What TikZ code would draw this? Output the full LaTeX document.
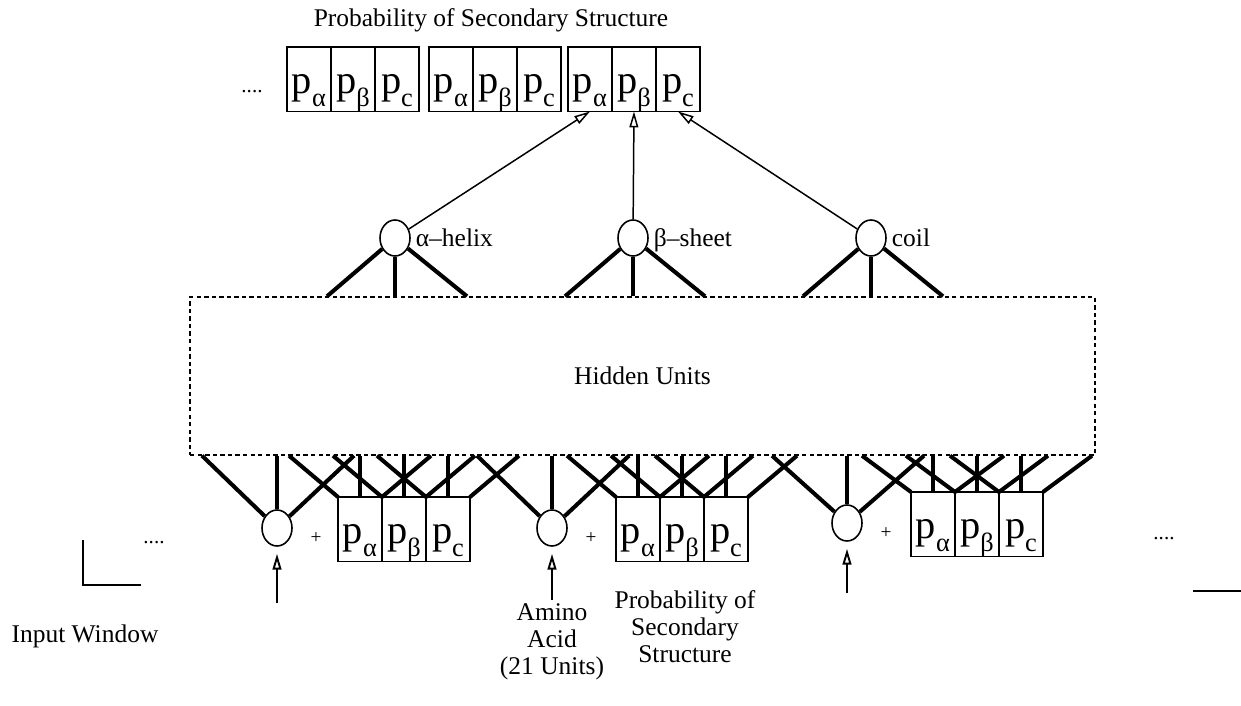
\documentclass[tikz,border=0pt]{standalone}
\usepackage{fontspec}
\setmainfont{Liberation Serif}
\usetikzlibrary{arrows.meta,calc,shapes.geometric,positioning}
\newcommand{\pc}[1]{\raisebox{-8pt}[0pt][0pt]{\fontsize{23}{23}\selectfont p\raisebox{-7.5pt}{\fontsize{15}{15}\selectfont #1}}}

\begin{document}
\begin{tikzpicture}[x=0.02cm,y=-0.02cm,font=\fontsize{14.5}{15.5}\selectfont,
    cell/.style={draw,line width=1.1pt,minimum width=0.88cm,minimum height=1.29cm,inner sep=0pt,outer sep=0pt},
    unit/.style={draw,ellipse,line width=0.9pt,minimum width=0.6cm,minimum height=0.72cm,inner sep=0pt},
    wt/.style={line width=2.3pt},
    up arrow/.style={line width=0.85pt,-{Triangle[open,length=9pt,width=5pt]}}]
  \useasboundingbox (0,0) rectangle (1241,706);

  % output window
  \node (outlbl) at (491,20) {Probability of Secondary Structure};
  \node[font=\fontsize{12}{12}\selectfont] (tdots) at (252,92) {....};
  \foreach \g/\x in {1/287,2/429,3/568} {
    \node[cell,anchor=north west] (t\g-a) at (\x,47) {\pc{α}};
    \node[cell,right=0pt of t\g-a] (t\g-b) {\pc{β}};
    \node[cell,right=0pt of t\g-b] (t\g-c) {\pc{c}};
  }

  % hidden layer
  \node[draw,dashed,dash pattern=on 2.5pt off 1.8pt,line width=0.8pt,
        minimum width=18.1cm,minimum height=3.16cm] (hid) at (642.5,376) {Hidden Units};

  % output units
  \node[unit] (ha) at (395,238) {};
  \node[unit] (hb) at (633,238) {};
  \node[unit] (hc) at (871,238) {};
  \node[anchor=base west,inner sep=1pt] (la) at ($(ha.east)+(3,8)$) {α–helix};
  \node[anchor=base west,inner sep=1pt] (lb) at ($(hb.east)+(3,8)$) {β–sheet};
  \node[anchor=base west,inner sep=1pt] (lc) at ($(hc.east)+(3,8)$) {coil};
  \foreach \h in {ha,hb,hc} {
    \draw[wt] (\h) -- ($(\h |- hid.north)+(-68,0)$);
    \draw[wt] (\h) -- (\h |- hid.north);
    \draw[wt] (\h) -- ($(\h |- hid.north)+(72,0)$);
  }
  \draw[up arrow] (ha) -- (t3-a.south);
  \draw[up arrow] (hb) -- (t3-b.south);
  \draw[up arrow] (hc) -- (t3-c.south);

  % input window
  \foreach \g/\x/\y/\bx/\by/\sy in {1/277/528/338/497/603, 2/552/528/616/497/600, 3/847/523/911/492/593} {
    \node[unit] (i\g) at (\x,\y) {};
    \node[font=\fontsize{11}{11}\selectfont] (plus\g) at ($(i\g)+(39,10)$) {+};
    \node[cell,anchor=north west] (b\g-a) at (\bx,\by) {\pc{α}};
    \node[cell,right=0pt of b\g-a] (b\g-b) {\pc{β}};
    \node[cell,right=0pt of b\g-b] (b\g-c) {\pc{c}};
    \draw[wt] (i\g) -- ($(i\g |- hid.south)+(-75,0)$);
    \draw[wt] (i\g) -- (i\g |- hid.south);
    \draw[wt] (i\g) -- ($(i\g |- hid.south)+(77,0)$);
    \foreach \c in {a,b,c} {
      \draw[wt] (b\g-\c.north west) -- ($(b\g-\c.north west |- hid.south)+(-49,0)$);
      \draw[wt] (b\g-\c.north) -- (b\g-\c.north |- hid.south);
      \draw[wt] (b\g-\c.north east) -- ($(b\g-\c.north east |- hid.south)+(49,0)$);
    }
    \coordinate (s\g) at (\x,\sy);
    \draw[up arrow,line width=1.1pt,shorten >=4pt] (s\g) -- (i\g);
  }

  \node[font=\fontsize{12}{12}\selectfont] (ldots) at (154,543) {....};
  \node[font=\fontsize{12}{12}\selectfont] (rdots) at (1164,539) {....};
  \draw[line width=1.1pt] (83,540) -- (83,585) -- (141,585);
  \draw[line width=1.1pt] (1193,591) -- (1241,591);

  \node (inlbl) at (85,636) {Input Window};
  \node[align=center,anchor=north] (aalbl) at (552,597) {Amino\\Acid\\(21 Units)};
  \node[align=center,anchor=north] (sslbl) at (685,584) {Probability of\\Secondary\\Structure};
\end{tikzpicture}
\end{document}
